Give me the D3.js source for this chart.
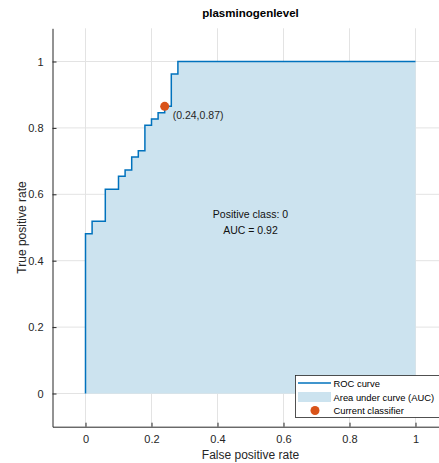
<!DOCTYPE html>
<html><head><meta charset="utf-8">
<script src="https://cdn.jsdelivr.net/npm/d3@7"></script>
<style>body{margin:0;background:#fff;}svg{display:block;font-family:"Liberation Sans",Arial,sans-serif;}</style>
</head><body>
<script>
// ROC curve vertices (FPR, TPR)
const fpr = [0,0,0.02,0.02,0.06,0.06,0.10,0.10,0.12,0.12,0.14,0.14,0.16,0.16,0.18,0.18,0.20,0.20,0.22,0.22,0.24,0.24,0.26,0.26,0.28,0.28,1];
const tpr = [0,0.481,0.481,0.519,0.519,0.615,0.615,0.654,0.654,0.673,0.673,0.712,0.712,0.731,0.731,0.808,0.808,0.827,0.827,0.846,0.846,0.865,0.865,0.962,0.962,1,1];
const currentClassifier = [0.24, 0.865];
const currentLabel = "(0.24,0.87)";
const xTicks = [0,0.2,0.4,0.6,0.8,1];
const yTicks = [0,0.2,0.4,0.6,0.8,1];
const titleText = "plasminogenlevel";
const infoLines = ["Positive class: 0","AUC = 0.92"];
const legendItems = ["ROC curve","Area under curve (AUC)","Current classifier"];

const W=439,H=463;
const svg=d3.select("body").append("svg").attr("width",W).attr("height",H);
const x=d3.scaleLinear().domain([-0.1,1.1]).range([52.5,448.5]);
const y=d3.scaleLinear().domain([-0.1,1.1]).range([426.7,28.3]);
const pts=fpr.map((f,i)=>[f,tpr[i]]);
const axisCol="#262626", gridCol="#e3e3e3";
const blue="#0072BD", fillCol="#CCE3EF", orange="#D95319";

// grid
const g=svg.append("g");
g.selectAll(".gx").data(xTicks).join("line").attr("x1",d=>x(d)).attr("x2",d=>x(d)).attr("y1",y(1.1)).attr("y2",y(-0.1)).attr("stroke",gridCol);
g.selectAll(".gy").data(yTicks).join("line").attr("y1",d=>y(d)).attr("y2",d=>y(d)).attr("x1",x(-0.1)).attr("x2",x(1.1)).attr("stroke",gridCol);

// area
svg.append("path").datum(pts).attr("fill",fillCol)
  .attr("d",d3.area().x(d=>x(d[0])).y0(y(0)).y1(d=>y(d[1])));
// line
svg.append("path").datum(pts).attr("fill","none").attr("stroke",blue).attr("stroke-width",1.5)
  .attr("d",d3.line().x(d=>x(d[0])).y(d=>y(d[1])));
// current classifier
svg.append("circle").attr("cx",x(currentClassifier[0])).attr("cy",y(currentClassifier[1])).attr("r",4.5).attr("fill",orange);
svg.append("text").attr("x",x(currentClassifier[0])+8).attr("y",y(currentClassifier[1])+13)
  .attr("font-size",10.5).attr("fill",axisCol).text(currentLabel);

// info text
svg.selectAll(".info").data(infoLines).join("text").attr("x",x(0.5)).attr("y",(d,i)=>y(0.52)-3+i*16)
  .attr("text-anchor","middle").attr("font-size",10.5).attr("fill","#111").text(d=>d);

// axes
const xa=svg.append("g").attr("transform",`translate(0,${y(-0.1)})`)
  .call(d3.axisBottom(x).tickValues(xTicks).tickFormat(d3.format("~g")).tickSizeInner(-4).tickSizeOuter(0).tickPadding(9));
const ya=svg.append("g").attr("transform",`translate(${x(-0.1)},0)`)
  .call(d3.axisLeft(y).tickValues(yTicks).tickFormat(d3.format("~g")).tickSizeInner(-4).tickSizeOuter(0).tickPadding(9));
[xa,ya].forEach(a=>{a.select(".domain").attr("stroke",axisCol);a.selectAll(".tick line").attr("stroke",axisCol);
  a.selectAll("text").attr("font-size",11).attr("fill",axisCol).attr("font-family","Liberation Sans, Arial, sans-serif");});

// title & labels
svg.append("text").attr("x",250.5).attr("y",17).attr("text-anchor","middle").attr("font-weight","bold").attr("font-size",11.5).attr("fill","#000").text(titleText);
svg.append("text").attr("x",250.5).attr("y",459).attr("text-anchor","middle").attr("font-size",12).attr("fill",axisCol).text("False positive rate");
svg.append("text").attr("transform",`translate(26,${y(0.5)}) rotate(-90)`).attr("text-anchor","middle").attr("font-size",12).attr("fill",axisCol).text("True positive rate");

// legend
const lg=svg.append("g");
lg.append("rect").attr("x",295.5).attr("y",375.5).attr("width",160).attr("height",42).attr("fill","#fff").attr("stroke",axisCol).attr("stroke-width",0.8);
const rowY=[383,397,410.5];
lg.append("line").attr("x1",298).attr("x2",331).attr("y1",rowY[0]).attr("y2",rowY[0]).attr("stroke",blue).attr("stroke-width",1.5);
lg.append("rect").attr("x",298).attr("y",rowY[1]-5).attr("width",33).attr("height",10).attr("fill",fillCol);
lg.append("circle").attr("cx",315).attr("cy",rowY[2]).attr("r",4.5).attr("fill",orange);
lg.selectAll(".lt").data(legendItems).join("text").attr("x",333.5).attr("y",(d,i)=>rowY[i]+3.5).attr("font-size",9.4).attr("fill","#000").text(d=>d);
</script>
</body></html>
